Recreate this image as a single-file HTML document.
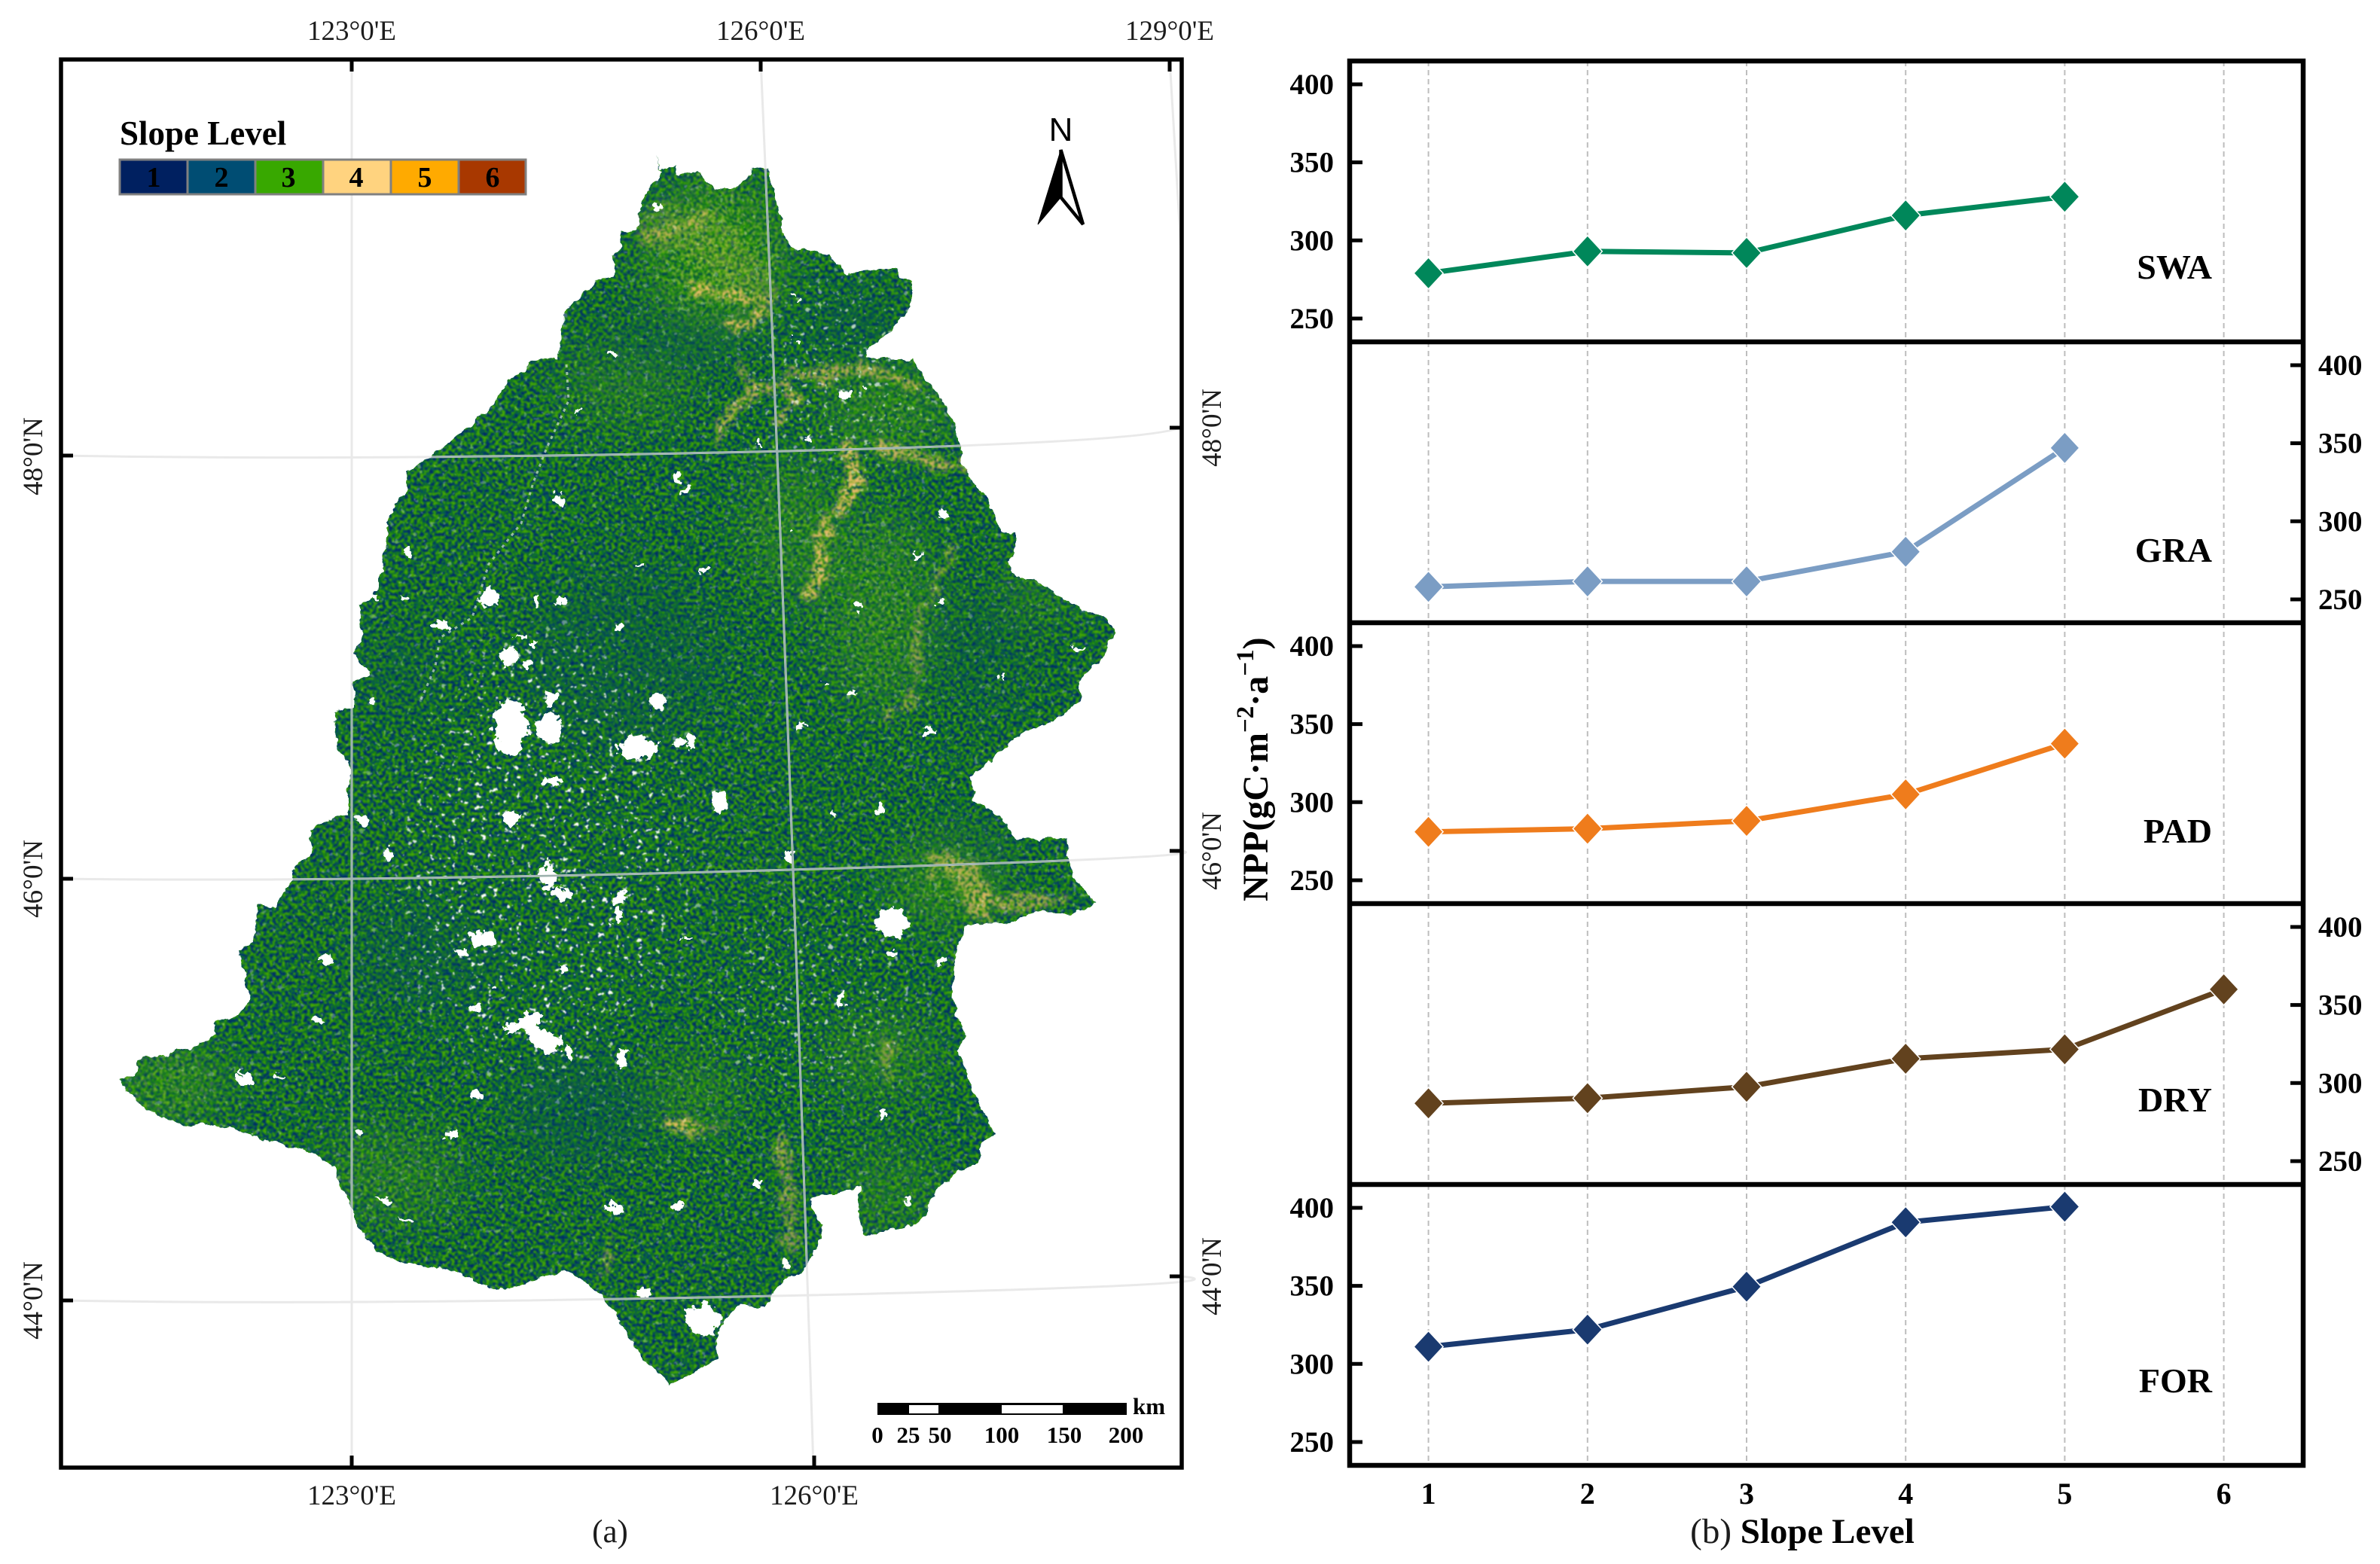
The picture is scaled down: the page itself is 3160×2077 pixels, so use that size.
<!DOCTYPE html>
<html lang="en">
<head>
<meta charset="utf-8">
<title>Slope Level map and NPP by slope level</title>
<style>
html,body{margin:0;padding:0;background:#fff;}
svg{display:block;}
text{font-family:"Liberation Serif","Times New Roman",serif;}
.m{font-size:37px;fill:#1c1c1c;}
.b{font-weight:bold;fill:#000;}
</style>
</head>
<body>
<svg id="fig" xmlns="http://www.w3.org/2000/svg" width="3160" height="2077" viewBox="0 0 3160 2077">
<defs>
  <filter id="roughEdge" filterUnits="userSpaceOnUse" x="100" y="150" width="1440" height="1750" color-interpolation-filters="sRGB">
    <feTurbulence type="fractalNoise" baseFrequency="0.07" numOctaves="3" seed="5" result="n"/>
    <feDisplacementMap in="SourceGraphic" in2="n" scale="11" xChannelSelector="R" yChannelSelector="G"/>
  </filter>
  <filter id="roughHoles" filterUnits="userSpaceOnUse" x="100" y="150" width="1440" height="1750" color-interpolation-filters="sRGB">
    <feTurbulence type="fractalNoise" baseFrequency="0.09" numOctaves="3" seed="23" result="n"/>
    <feDisplacementMap in="SourceGraphic" in2="n" scale="20" xChannelSelector="R" yChannelSelector="G"/>
  </filter>
  <mask id="mapMask" maskUnits="userSpaceOnUse" x="100" y="150" width="1440" height="1750">
    <path id="mapShape" filter="url(#roughEdge)" fill="#fff" d="M883,199L871,207L877,226L898,218L897,234L926,226L945,249L978,249L1002,224L1019,226L1029,256L1040,310L1051,329L1103,339L1124,364L1170,358L1192,355L1195,367L1213,378L1203,419L1176,446L1149,467L1151,477L1211,477L1225,500L1263,549L1273,584L1279,619L1314,671L1328,703L1347,709L1349,728L1338,749L1349,768L1371,768L1436,809L1469,822L1480,839L1458,879L1433,906L1436,931L1398,958L1349,977L1312,1012L1290,1033L1292,1060L1328,1084L1349,1114L1417,1113L1422,1163L1455,1198L1436,1209L1420,1214L1376,1209L1349,1225L1284,1228L1271,1255L1263,1325L1271,1347L1281,1374L1271,1396L1290,1444L1319,1504L1303,1518L1298,1547L1273,1553L1235,1591L1230,1615L1211,1629L1181,1632L1162,1641L1146,1637L1138,1607L1142,1577L1111,1585L1078,1591L1076,1604L1092,1629L1084,1659L1067,1686L1040,1699L1027,1716L1016,1735L981,1732L964,1751L951,1778L954,1802L926,1819L889,1840L878,1827L851,1802L834,1772L818,1743L796,1718L767,1694L745,1688L704,1702L672,1713L660,1713L627,1699L595,1686L529,1675L497,1659L475,1629L462,1591L443,1553L416,1531L367,1518L307,1499L275,1492L248,1494L215,1485L188,1466L160,1435L177,1428L183,1409L215,1401L253,1393L286,1374L283,1357L313,1352L332,1328L326,1304L318,1260L337,1252L342,1201L364,1203L389,1168L387,1155L416,1130L409,1114L418,1095L443,1086L462,1081L462,1049L468,1019L451,999L445,966L443,944L470,939L470,906L492,896L470,868L481,844L478,803L497,793L510,749L514,700L524,668L540,652L538,627L562,614L611,576L649,543L676,505L708,480L741,475L746,440L752,413L784,381L795,371L814,367L819,353L811,340L825,326L825,307L847,302L849,272L868,242L879,229L871,207Z"/>
  </mask>

  <filter id="speckleBase" filterUnits="userSpaceOnUse" x="140" y="180" width="1360" height="1680" color-interpolation-filters="sRGB">
    <feTurbulence type="fractalNoise" baseFrequency="0.24" numOctaves="2" seed="7"/>
    <feColorMatrix type="matrix" values="3.4 0 0 0 -1.2  3.4 0 0 0 -1.2  3.4 0 0 0 -1.2  0 0 0 0 1"/>
    <feComponentTransfer>
      <feFuncR type="discrete" tableValues="0 0 .01 .03 .06 .10 .18 .28"/>
      <feFuncG type="discrete" tableValues=".16 .24 .30 .38 .46 .52 .60 .66"/>
      <feFuncB type="discrete" tableValues=".40 .44 .42 .30 .10 .04 0 .02"/>
    </feComponentTransfer>
    <feGaussianBlur stdDeviation="1"/>
  </filter>
  <filter id="speckleLight" filterUnits="userSpaceOnUse" x="140" y="180" width="1360" height="1680" color-interpolation-filters="sRGB">
    <feTurbulence type="fractalNoise" baseFrequency="0.24" numOctaves="2" seed="19"/>
    <feColorMatrix type="matrix" values="3.4 0 0 0 -1.2  3.4 0 0 0 -1.2  3.4 0 0 0 -1.2  0 0 0 0 1"/>
    <feComponentTransfer>
      <feFuncR type="discrete" tableValues=".02 .05 .10 .18 .26 .40 .60"/>
      <feFuncG type="discrete" tableValues=".30 .44 .54 .62 .66 .68 .74"/>
      <feFuncB type="discrete" tableValues=".32 .12 .03 0 .02 .10 .26"/>
    </feComponentTransfer>
    <feGaussianBlur stdDeviation="1"/>
  </filter>
  <filter id="speckleRidge" filterUnits="userSpaceOnUse" x="140" y="180" width="1360" height="1680" color-interpolation-filters="sRGB">
    <feTurbulence type="fractalNoise" baseFrequency="0.22" numOctaves="2" seed="31"/>
    <feColorMatrix type="matrix" values="3.4 0 0 0 -1.2  3.4 0 0 0 -1.2  3.4 0 0 0 -1.2  3.4 0 0 0 -1.2"/>
    <feComponentTransfer>
      <feFuncR type="discrete" tableValues=".14 .30 .50 .70 .84 .92"/>
      <feFuncG type="discrete" tableValues=".48 .60 .66 .72 .72 .74"/>
      <feFuncB type="discrete" tableValues=".10 .05 .12 .28 .36 .42"/>
      <feFuncA type="discrete" tableValues="0 .15 .8 1 1 1"/>
    </feComponentTransfer>
    <feGaussianBlur stdDeviation="1"/>
  </filter>
  <filter id="speckleDark" filterUnits="userSpaceOnUse" x="140" y="180" width="1360" height="1680" color-interpolation-filters="sRGB">
    <feTurbulence type="fractalNoise" baseFrequency="0.24" numOctaves="2" seed="43"/>
    <feColorMatrix type="matrix" values="3.4 0 0 0 -1.2  3.4 0 0 0 -1.2  3.4 0 0 0 -1.2  0 0 0 0 1"/>
    <feComponentTransfer>
      <feFuncR type="discrete" tableValues="0 0 .01 .02 .05 .12"/>
      <feFuncG type="discrete" tableValues=".16 .24 .30 .38 .46 .56"/>
      <feFuncB type="discrete" tableValues=".40 .44 .42 .30 .14 .02"/>
    </feComponentTransfer>
    <feGaussianBlur stdDeviation="1"/>
  </filter>
  <filter id="speckleWhite" filterUnits="userSpaceOnUse" x="140" y="180" width="1360" height="1680" color-interpolation-filters="sRGB">
    <feTurbulence type="fractalNoise" baseFrequency="0.13" numOctaves="3" seed="11"/>
    <feColorMatrix type="matrix" values="0 0 0 0 1  0 0 0 0 1  0 0 0 0 1  18 0 0 0 -12.4"/>
    <feGaussianBlur stdDeviation="0.8"/>
  </filter>
  <filter id="soft" x="-30%" y="-30%" width="160%" height="160%"><feGaussianBlur stdDeviation="30"/></filter>
  <filter id="softRidge" filterUnits="userSpaceOnUse" x="140" y="180" width="1360" height="1680" color-interpolation-filters="sRGB">
    <feTurbulence type="fractalNoise" baseFrequency="0.05" numOctaves="3" seed="3" result="n"/>
    <feDisplacementMap in="SourceGraphic" in2="n" scale="34" xChannelSelector="R" yChannelSelector="G"/>
    <feGaussianBlur stdDeviation="3"/>
  </filter>

  <mask id="lightMask" maskUnits="userSpaceOnUse" x="140" y="180" width="1360" height="1680">
    <g filter="url(#soft)" fill="#fff">
      <ellipse cx="950" cy="340" rx="90" ry="100" fill-opacity=".85"/>
      <ellipse cx="1180" cy="540" rx="90" ry="60" fill-opacity=".55"/>
      <ellipse cx="830" cy="510" rx="90" ry="50" fill-opacity=".45"/>
      <ellipse cx="1170" cy="810" rx="70" ry="130" fill-opacity=".55"/>
      <ellipse cx="1050" cy="700" rx="60" ry="90" fill-opacity=".5"/>
      <ellipse cx="1370" cy="790" rx="50" ry="40" fill-opacity=".4"/>
      <ellipse cx="230" cy="1440" rx="70" ry="40" fill-opacity=".8"/>
      <ellipse cx="520" cy="1560" rx="90" ry="60" fill-opacity=".45"/>
      <ellipse cx="1260" cy="1170" rx="70" ry="50" fill-opacity=".8"/>
      <ellipse cx="1170" cy="1400" rx="70" ry="50" fill-opacity=".5"/>
      <ellipse cx="920" cy="1450" rx="60" ry="40" fill-opacity=".5"/>
      <ellipse cx="1180" cy="1580" rx="60" ry="50" fill-opacity=".45"/>
    </g>
  </mask>
  <mask id="darkMask" maskUnits="userSpaceOnUse" x="140" y="180" width="1360" height="1680">
    <g filter="url(#soft)" fill="#fff">
      <ellipse cx="770" cy="1475" rx="90" ry="60" fill-opacity=".65"/>
      <ellipse cx="830" cy="870" rx="130" ry="120" fill-opacity=".4"/>
      <ellipse cx="900" cy="460" rx="120" ry="28" fill-opacity=".6"/>
      <ellipse cx="560" cy="1270" rx="90" ry="60" fill-opacity=".45"/>
      <ellipse cx="1130" cy="430" rx="60" ry="40" fill-opacity=".55"/>
      <ellipse cx="1300" cy="860" rx="60" ry="70" fill-opacity=".4"/>
      <ellipse cx="1290" cy="1120" rx="60" ry="20" fill-opacity=".5"/>
      <ellipse cx="530" cy="890" rx="50" ry="60" fill-opacity=".3"/>
    </g>
  </mask>
  <mask id="ridgeMask" maskUnits="userSpaceOnUse" x="140" y="180" width="1360" height="1680">
    <g filter="url(#softRidge)" fill="none" stroke="#fff" stroke-linecap="round" stroke-linejoin="round">
      <path stroke-width="60" stroke-opacity=".28" d="M880,300L950,320L1000,380"/>
      <path stroke-width="14" stroke-opacity=".7" d="M861,321L905,299L943,283"/>
      <path stroke-width="16" d="M921,381L970,394L1019,397"/>
      <path stroke-width="14" d="M975,435L1019,413"/>
      <path stroke-width="12" stroke-opacity=".8" d="M954,581L970,543L1002,522L1046,505L1054,532L1029,570"/>
      <path stroke-width="10" stroke-opacity=".6" d="M981,484L997,516"/>
      <path stroke-width="14" stroke-opacity=".8" d="M1046,489L1084,500L1138,489L1192,505L1214,516"/>
      <path stroke-width="16" d="M1127,597L1138,641L1116,673L1089,711L1095,738L1084,771L1073,787"/>
      <path stroke-width="14" stroke-opacity=".85" d="M1170,592L1214,608L1279,622"/>
      <path stroke-width="8" stroke-opacity=".6" d="M1263,727L1219,825L1216,906L1203,939L1170,958"/>
      <path stroke-width="34" stroke-opacity=".75" d="M1246,1146L1290,1168L1300,1206"/>
      <path stroke-width="14" stroke-opacity=".7" d="M1306,1200L1409,1195"/>
      <path stroke-width="16" d="M889,1488L916,1504"/>
      <path stroke-width="6" stroke-opacity=".7" d="M926,1501L959,1496"/>
      <path stroke-width="20" stroke-opacity=".6" d="M1038,1515L1046,1569L1051,1651"/>
      <path stroke-width="16" stroke-opacity=".5" d="M1181,1390L1176,1423"/>
      <path stroke-width="5" stroke-opacity=".8" d="M808,1640L803,1690"/>
    </g>
  </mask>
  <mask id="whiteMask" maskUnits="userSpaceOnUse" x="140" y="180" width="1360" height="1680">
    <rect x="140" y="180" width="1360" height="1680" fill="#444"/>
    <g filter="url(#soft)" fill="#fff">
      <ellipse cx="720" cy="1140" rx="190" ry="290"/>
      <ellipse cx="1120" cy="500" rx="120" ry="120" fill-opacity=".6"/>
      <ellipse cx="1080" cy="1320" rx="130" ry="130" fill-opacity=".6"/>
    </g>
  </mask>
</defs>

<g>
  <g mask="url(#mapMask)">
    <rect x="140" y="180" width="1360" height="1680" filter="url(#speckleBase)" fill="#000"/>
    <rect x="140" y="180" width="1360" height="1680" filter="url(#speckleLight)" fill="#000" mask="url(#lightMask)"/>
    <rect x="140" y="180" width="1360" height="1680" filter="url(#speckleDark)" fill="#000" mask="url(#darkMask)"/>
    <rect x="140" y="180" width="1360" height="1680" filter="url(#speckleRidge)" fill="#000" mask="url(#ridgeMask)"/>
    <rect x="140" y="180" width="1360" height="1680" filter="url(#speckleWhite)" fill="#000" mask="url(#whiteMask)"/>
    <path d="M752,484L755,532L725,597L708,641L692,695L649,749L627,820L584,847L578,885L557,934" fill="none" stroke="#dfe6e0" stroke-width="3" stroke-dasharray="4 6" opacity=".65"/>
    <g fill="#fff" filter="url(#roughHoles)">
      <ellipse cx="649" cy="793" rx="14" ry="12"/><ellipse cx="586" cy="830" rx="12" ry="7"/><ellipse cx="676" cy="871" rx="11" ry="14"/>
      <ellipse cx="678" cy="966" rx="22" ry="38"/><ellipse cx="730" cy="966" rx="17" ry="20"/><ellipse cx="733" cy="928" rx="10" ry="8"/>
      <ellipse cx="874" cy="933" rx="11" ry="12"/><ellipse cx="847" cy="993" rx="26" ry="16"/><ellipse cx="901" cy="988" rx="8" ry="8"/><ellipse cx="917" cy="982" rx="7" ry="9"/>
      <ellipse cx="811" cy="469" rx="7" ry="4"/><ellipse cx="742" cy="662" rx="6" ry="7"/><ellipse cx="768" cy="547" rx="4" ry="4"/>
      <ellipse cx="898" cy="634" rx="5" ry="5"/><ellipse cx="912" cy="651" rx="7" ry="4"/><ellipse cx="936" cy="757" rx="5" ry="5"/><ellipse cx="849" cy="750" rx="3" ry="3"/>
      <ellipse cx="543" cy="735" rx="6" ry="5"/><ellipse cx="538" cy="793" rx="6" ry="4"/><ellipse cx="824" cy="834" rx="4" ry="5"/><ellipse cx="875" cy="273" rx="7" ry="5"/>
      <ellipse cx="746" cy="798" rx="8" ry="5"/><ellipse cx="714" cy="798" rx="4" ry="6"/><ellipse cx="494" cy="931" rx="4" ry="4"/><ellipse cx="502" cy="795" rx="5" ry="3"/>
      <ellipse cx="692" cy="844" rx="8" ry="3"/><ellipse cx="707" cy="857" rx="5" ry="5"/><ellipse cx="700" cy="885" rx="5" ry="8"/>
      <ellipse cx="483" cy="1089" rx="9" ry="7"/><ellipse cx="515" cy="1134" rx="7" ry="8"/><ellipse cx="679" cy="1089" rx="9" ry="11"/><ellipse cx="955" cy="1066" rx="10" ry="15"/>
      <ellipse cx="733" cy="1038" rx="16" ry="5"/><ellipse cx="727" cy="1163" rx="9" ry="18"/><ellipse cx="746" cy="1187" rx="15" ry="10"/><ellipse cx="822" cy="1192" rx="11" ry="7"/><ellipse cx="819" cy="1217" rx="6" ry="11"/>
      <ellipse cx="641" cy="1248" rx="19" ry="11"/><ellipse cx="612" cy="1264" rx="9" ry="7"/><ellipse cx="434" cy="1275" rx="8" ry="9"/><ellipse cx="423" cy="1356" rx="7" ry="5"/>
      <path d="M665,1369L695,1352L698,1342L717,1347L714,1363L746,1377L743,1393L725,1400L708,1390L700,1369Z"/>
      <ellipse cx="756" cy="1398" rx="7" ry="9"/><ellipse cx="825" cy="1407" rx="6" ry="14"/>
      <ellipse cx="329" cy="1431" rx="14" ry="4" transform="rotate(30 329 1431)"/><ellipse cx="323" cy="1435" rx="8" ry="5"/><ellipse cx="370" cy="1428" rx="10" ry="3" transform="rotate(25 370 1428)"/>
      <ellipse cx="597" cy="1506" rx="9" ry="6"/><ellipse cx="818" cy="1606" rx="14" ry="6" transform="rotate(30 818 1606)"/><ellipse cx="901" cy="1602" rx="6" ry="5"/>
      <ellipse cx="933" cy="1753" rx="24" ry="21"/><ellipse cx="855" cy="1717" rx="7" ry="6"/><ellipse cx="481" cy="1504" rx="4" ry="4"/><ellipse cx="630" cy="1339" rx="5" ry="5"/><ellipse cx="657" cy="1312" rx="4" ry="4"/>
      <ellipse cx="749" cy="1285" rx="7" ry="4"/><ellipse cx="914" cy="1245" rx="5" ry="3"/><ellipse cx="635" cy="1454" rx="6" ry="6"/>
      <ellipse cx="508" cy="1594" rx="12" ry="3" transform="rotate(15 508 1594)"/><ellipse cx="538" cy="1618" rx="10" ry="3" transform="rotate(15 538 1618)"/>
      <ellipse cx="1184" cy="1225" rx="21" ry="20"/><ellipse cx="1182" cy="1266" rx="7" ry="5"/><ellipse cx="1249" cy="1279" rx="6" ry="6"/><ellipse cx="1116" cy="1330" rx="5" ry="9"/>
      <ellipse cx="1169" cy="1073" rx="6" ry="7"/><ellipse cx="1048" cy="1136" rx="7" ry="8"/><ellipse cx="1104" cy="1084" rx="4" ry="4"/><ellipse cx="1173" cy="1482" rx="5" ry="5"/>
      <ellipse cx="1206" cy="1594" rx="5" ry="6"/><ellipse cx="1043" cy="1676" rx="9" ry="4"/><ellipse cx="1006" cy="1572" rx="5" ry="5"/>
      <ellipse cx="1122" cy="524" rx="7" ry="5"/><ellipse cx="1146" cy="516" rx="3" ry="4"/><ellipse cx="1059" cy="394" rx="4" ry="4"/><ellipse cx="1060" cy="453" rx="4" ry="4"/>
      <ellipse cx="1138" cy="806" rx="5" ry="6"/><ellipse cx="1252" cy="684" rx="6" ry="6"/><ellipse cx="1218" cy="738" rx="4" ry="4"/><ellipse cx="1233" cy="970" rx="8" ry="5"/>
      <ellipse cx="1132" cy="920" rx="4" ry="4"/><ellipse cx="1097" cy="906" rx="3" ry="3"/><ellipse cx="1431" cy="862" rx="7" ry="3"/><ellipse cx="1330" cy="897" rx="4" ry="4"/>
      <ellipse cx="1249" cy="798" rx="4" ry="4"/><ellipse cx="1050" cy="707" rx="3" ry="3"/><ellipse cx="1005" cy="589" rx="3" ry="3"/><ellipse cx="1074" cy="584" rx="4" ry="4"/><ellipse cx="1062" cy="963" rx="5" ry="5"/>
    </g>
  </g>

  <g fill="none" stroke="#e9e9e9" stroke-width="3">
    <path d="M81,605Q467,612 1000,600T1568,567"/>
    <path d="M81,1167Q467,1172 1050,1155T1568,1130"/>
    <path d="M81,1727Q467,1734 1075,1720T1568,1695"/>
    <path d="M467,79L467,1949"/>
    <path d="M1010,79Q1050,1000 1080,1949"/>
    <path d="M1553,79L1568,330"/>
  </g>
  <g mask="url(#mapMask)" fill="none" stroke="#9db2ae" stroke-width="2.5">
    <path d="M81,605Q467,612 1000,600T1568,567"/>
    <path d="M81,1167Q467,1172 1050,1155T1568,1130"/>
    <path d="M81,1727Q467,1734 1075,1720T1568,1695"/>
    <path d="M467,79L467,1949"/>
    <path d="M1010,79Q1050,1000 1080,1949"/>
  </g>

  <rect x="81" y="79" width="1488" height="1870" fill="none" stroke="#000" stroke-width="5.5"/>
  <g stroke="#000" stroke-width="5">
    <path d="M467,79V95M1010,79V95M1553,79V95M467,1949V1933M1081,1949V1933M81,605H97M81,1167H97M81,1727H97M1569,568H1553M1569,1130H1553M1569,1695H1553"/>
  </g>

  <text class="m" x="467" y="53" text-anchor="middle">123°0'E</text>
  <text class="m" x="1010" y="53" text-anchor="middle">126°0'E</text>
  <text class="m" x="1553" y="53" text-anchor="middle">129°0'E</text>
  <text class="m" x="467" y="1998" text-anchor="middle">123°0'E</text>
  <text class="m" x="1081" y="1998" text-anchor="middle">126°0'E</text>
  <text class="m" transform="translate(56,606) rotate(-90)" text-anchor="middle">48°0'N</text>
  <text class="m" transform="translate(56,1167) rotate(-90)" text-anchor="middle">46°0'N</text>
  <text class="m" transform="translate(56,1727) rotate(-90)" text-anchor="middle">44°0'N</text>
  <text class="m" transform="translate(1621,568) rotate(-90)" text-anchor="middle">48°0'N</text>
  <text class="m" transform="translate(1621,1130) rotate(-90)" text-anchor="middle">46°0'N</text>
  <text class="m" transform="translate(1621,1695) rotate(-90)" text-anchor="middle">44°0'N</text>
  <text x="810" y="2048" text-anchor="middle" font-size="43" fill="#1c1c1c">(a)</text>

  <g>
    <text class="b" x="159" y="192" font-size="45">Slope Level</text>
    <rect x="159" y="212" width="90" height="46" fill="#002060" stroke="#808080" stroke-width="3"/>
    <rect x="249" y="212" width="90" height="46" fill="#004d73" stroke="#808080" stroke-width="3"/>
    <rect x="339" y="212" width="90" height="46" fill="#38a800" stroke="#808080" stroke-width="3"/>
    <rect x="429" y="212" width="90" height="46" fill="#ffd37f" stroke="#808080" stroke-width="3"/>
    <rect x="519" y="212" width="90" height="46" fill="#ffaa00" stroke="#808080" stroke-width="3"/>
    <rect x="609" y="212" width="89" height="46" fill="#a83800" stroke="#808080" stroke-width="3"/>
    <g class="legend-digits" font-size="38" font-weight="bold" fill="#000" text-anchor="middle">
      <text x="204" y="248">1</text>
      <text x="294" y="248">2</text>
      <text x="383" y="248">3</text>
      <text x="473" y="248">4</text>
      <text x="564" y="248">5</text>
      <text x="654" y="248">6</text>
    </g>
  </g>

  <g>
    <text x="1408.5" y="187" text-anchor="middle" font-size="44" style="font-family:'Liberation Sans',sans-serif">N</text>
    <path d="M1408.5,199L1378,298L1408.5,262Z" fill="#000" stroke="#000" stroke-width="1"/>
    <path d="M1408.5,199L1438,298L1408.5,262Z" fill="#fff" stroke="#000" stroke-width="4.5"/>
  </g>

  <g>
    <rect x="1165" y="1863" width="331" height="16" fill="#000"/>
    <rect x="1207" y="1866" width="39" height="11" fill="#fff"/>
    <rect x="1330" y="1866" width="81" height="11" fill="#fff"/>
    <g font-size="31" font-weight="bold" fill="#000" text-anchor="middle">
      <text x="1165" y="1916">0</text>
      <text x="1206" y="1916">25</text>
      <text x="1248" y="1916">50</text>
      <text x="1330" y="1916">100</text>
      <text x="1413" y="1916">150</text>
      <text x="1495" y="1916">200</text>
    </g>
    <text x="1504" y="1878" font-size="31" font-weight="bold" fill="#000">km</text>
  </g>
</g>

<g id="chart"></g>
<text class="b" transform="translate(1683,1197) rotate(-90)" font-size="48">NPP(gC·m<tspan dy="-19" font-size="33">−2</tspan><tspan dy="19">·a</tspan><tspan dy="-19" font-size="33">−1</tspan><tspan dy="19">)</tspan></text>
<text x="2393" y="2049" text-anchor="middle" font-size="47" fill="#1c1c1c">(b) <tspan font-weight="bold" fill="#000">Slope Level</tspan></text>
</svg>

<script>
const categories = [1, 2, 3, 4, 5, 6];
const tickValues = [250, 300, 350, 400];
const swaValues = [279, 293, 292, 316, 328];
const graValues = [258, 261.5, 261.5, 280.5, 347];
const padValues = [281, 283, 288, 305, 337.5];
const dryValues = [287, 290.3, 297.6, 315.6, 321.6, 360];
const forValues = [311, 322, 349.5, 390.7, 400.7];

const panelNames = ['SWA', 'GRA', 'PAD', 'DRY', 'FOR'];
const panelSeries = [swaValues, graValues, padValues, dryValues, forValues];
const panelColors = ['#00875a', '#7b9dc4', '#ef7c1c', '#62421e', '#1a3a70'];
const tickSides = ['left', 'right', 'left', 'right', 'left'];

const NS = 'http://www.w3.org/2000/svg';
const chart = document.getElementById('chart');
const plotLeft = 1792, plotRight = 3058, plotTop = 81, panelHeight = 373;

function xScale(category) { return 1896.6 + (category - 1) * 211.2; }
function yScale(panelIndex, value) { return plotTop + panelIndex * panelHeight + 31 + (400 - value) * 2.073; }
function panelLabelBaseline(panelIndex) {
  const top = plotTop + panelIndex * panelHeight;
  if (panelIndex === 0) return top + 289;
  if (panelIndex === 1 || panelIndex === 2) return top + 292;
  return top + 276;
}
function make(tag, attrs, text) {
  const el = document.createElementNS(NS, tag);
  for (const k in attrs) el.setAttribute(k, attrs[k]);
  if (text !== undefined) el.textContent = text;
  chart.appendChild(el);
  return el;
}

panelNames.forEach(function (name, p) {
  const key = name.toLowerCase();
  const top = plotTop + p * panelHeight;

  categories.forEach(function (c) {
    const grid = make('line', { x1: xScale(c), x2: xScale(c), y1: top, y2: top + panelHeight, stroke: '#bdbdbd', 'stroke-width': 2, 'stroke-dasharray': '7 5' });
    
    
  });

  const side = tickSides[p];
  tickValues.forEach(function (v) {
    const y = yScale(p, v);
    const x1 = side === 'left' ? plotLeft : plotRight;
    const x2 = side === 'left' ? plotLeft + 17 : plotRight - 17;
    const tick = make('line', { x1: x1, x2: x2, y1: y, y2: y, stroke: '#000', 'stroke-width': 5 });
    
    
    const lx = side === 'left' ? 1771 : 3078;
    const anchor = side === 'left' ? 'end' : 'start';
    const label = make('text', { x: lx, y: y + 13, 'text-anchor': anchor, 'font-size': 39, 'font-weight': 'bold', fill: '#000' }, String(v));
    
    
  });

  const values = panelSeries[p];
  const pts = values.map(function (v, i) { return xScale(categories[i]) + ',' + yScale(p, v); }).join(' ');
  const line = make('polyline', { points: pts, fill: 'none', stroke: panelColors[p], 'stroke-width': 7, 'stroke-linejoin': 'round' });
  
  

  values.forEach(function (v, i) {
    const cx = xScale(categories[i]), cy = yScale(p, v);
    const d = 'M' + cx + ',' + (cy - 21) + 'L' + (cx + 19.5) + ',' + cy + 'L' + cx + ',' + (cy + 21) + 'L' + (cx - 19.5) + ',' + cy + 'Z';
    const pt = make('path', { d: d, fill: panelColors[p], stroke: '#fff', 'stroke-width': 1.5 });
    
    
  });

  const title = make('text', { x: 2937, y: panelLabelBaseline(p), 'text-anchor': 'end', 'font-size': 46, 'font-weight': 'bold', fill: '#000' }, name);
  
  
});

for (let p = 1; p < panelNames.length; p++) {
  const y = plotTop + p * panelHeight;
  const divider = make('line', { x1: plotLeft, x2: plotRight, y1: y, y2: y, stroke: '#000', 'stroke-width': 6.5 });
  
  
}
const frame = make('rect', { x: plotLeft, y: plotTop, width: plotRight - plotLeft, height: panelHeight * panelNames.length, fill: 'none', stroke: '#000', 'stroke-width': 6.5 });



categories.forEach(function (c) {
  const lab = make('text', { x: xScale(c), y: 1997, 'text-anchor': 'middle', 'font-size': 40, 'font-weight': 'bold', fill: '#000' }, String(c));
  
  
});
</script>
</body>
</html>
